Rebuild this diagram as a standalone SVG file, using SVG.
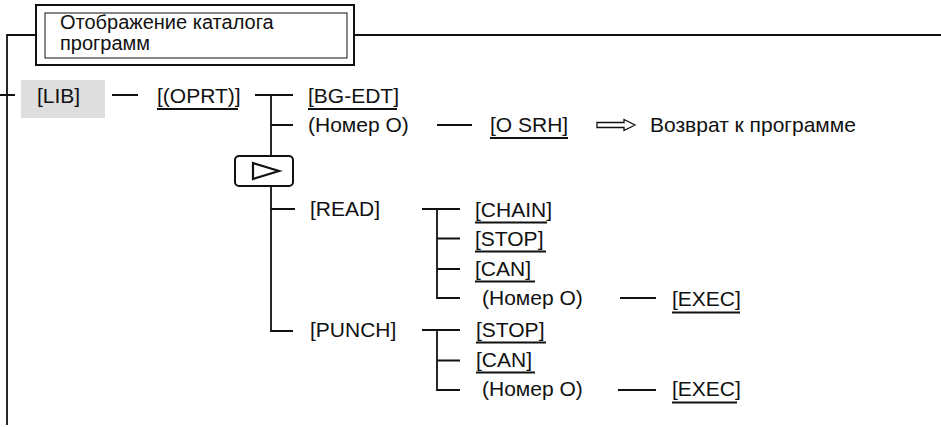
<svg xmlns="http://www.w3.org/2000/svg" width="941" height="427" viewBox="0 0 941 427">
<style>
text{font-family:"Liberation Sans",Arial,sans-serif;font-size:21px;fill:#111}
.t{font-size:20px}
.c{stroke:#111;stroke-width:1.8;fill:none}
.u{stroke:#111;stroke-width:2.2}
</style>
<rect width="941" height="427" fill="#fff"/>
<g id="connectors">
<path class="c" d="M7,425V35H36M354,35H941M0,95H15"/>
<path class="c" d="M112,95H138M255,95H293M271,95V156M271,186V331H293M271,125H293M271,209H295"/>
<path class="c" d="M437,125H472"/>
<path class="c" d="M422,209H460M437,209V298H460M437,238.5H460M437,269H460M620,298H656"/>
<path class="c" d="M422,330H460M437,330V390H460M437,360.5H460M618,390H656"/>
</g>
<g id="title">
<rect x="36" y="5" width="318" height="60" fill="#fff" stroke="#111" stroke-width="2"/>
<rect x="45" y="13" width="302" height="45" fill="none" stroke="#111" stroke-width="1"/>
<text class="t" x="60" y="29">Отображение каталога</text>
<text class="t" x="60" y="50">программ</text>
</g>
<g id="lib">
<rect x="21" y="80" width="84" height="38" fill="#dedede"/>
<text x="37" y="103">[LIB]</text>
</g>
<g id="oprt"><text x="157" y="103">[(OPRT)]</text><line class="u" x1="157" y1="109" x2="238" y2="109"/></g>
<g id="bgedt"><text x="308" y="103">[BG-EDT]</text><line class="u" x1="308" y1="109" x2="397" y2="109"/></g>
<g id="nomer1"><text x="308" y="132">(Номер О)</text></g>
<g id="osrh"><text x="490" y="132">[O SRH]</text><line class="u" x1="490" y1="138" x2="568" y2="138"/></g>
<g id="arrow"><path d="M597,122.5H624V119.5L635,125L624,130.5V127.5H597Z" fill="#fff" stroke="#111" stroke-width="1.3"/></g>
<g id="return"><text x="650" y="132">Возврат к программе</text></g>
<g id="next">
<rect x="235" y="156" width="58" height="30" rx="4" fill="#fff" stroke="#111" stroke-width="2"/>
<path d="M253,163L279,171L253,179Z" fill="none" stroke="#111" stroke-width="2.2" stroke-linejoin="miter"/>
</g>
<g id="read"><text x="310" y="216">[READ]</text></g>
<g id="chain"><text x="475" y="217">[CHAIN]</text><line class="u" x1="475" y1="222.5" x2="547" y2="222.5"/></g>
<g id="stop1"><text x="475" y="246">[STOP]</text><line class="u" x1="475" y1="251.5" x2="546" y2="251.5"/></g>
<g id="can1"><text x="475" y="276">[CAN]</text><line class="u" x1="475" y1="281.5" x2="535" y2="281.5"/></g>
<g id="nomer2"><text x="482" y="305">(Номер О)</text></g>
<g id="exec1"><text x="672" y="305.5">[EXEC]</text><line class="u" x1="672" y1="312.5" x2="740" y2="312.5"/></g>
<g id="punch"><text x="310" y="337">[PUNCH]</text></g>
<g id="stop2"><text x="476" y="337">[STOP]</text><line class="u" x1="476" y1="342.5" x2="546" y2="342.5"/></g>
<g id="can2"><text x="476" y="367">[CAN]</text><line class="u" x1="476" y1="372.5" x2="535" y2="372.5"/></g>
<g id="nomer3"><text x="482" y="396">(Номер О)</text></g>
<g id="exec2"><text x="672" y="396">[EXEC]</text><line class="u" x1="672" y1="402.5" x2="737" y2="402.5"/></g>
</svg>
